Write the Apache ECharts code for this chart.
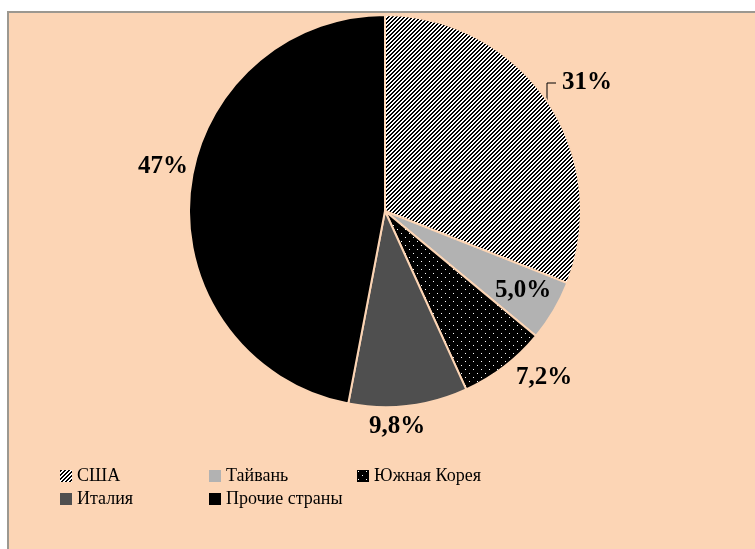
<!DOCTYPE html>
<html lang="ru">
<head>
    <meta charset="UTF-8">
    <title>Доли стран</title>
    <script src="https://cdn.jsdelivr.net/npm/echarts@6/dist/echarts.min.js"></script>
    <style>
        body, html {
            margin: 0;
            background: #ffffff;
        }
        #main {
            width: 755px;
            height: 549px;
        }
    </style>
</head>
<body>
<div id="main"></div>

<script>
    // данные диаграммы
    const countries = ['США', 'Тайвань', 'Южная Корея', 'Италия', 'Прочие страны'];
    const shares = [31, 5.0, 7.2, 9.8, 47];
    const shareLabels = ['31%', '5,0%', '7,2%', '9,8%', '47%'];

    const peach = '#fcd5b5';
    const serif = "Liberation Serif";

    // штриховка ////
    function makeHatch() {
        let c = document.createElement('canvas');
        c.width = 4; c.height = 4;
        let ctx = c.getContext('2d');
        let img = ctx.createImageData(4, 4);
        for (let y = 0; y < 4; y++) {
            for (let x = 0; x < 4; x++) {
                let v = ((x + y) % 4 < 2) ? 0 : 255;
                let i = (y * 4 + x) * 4;
                img.data[i] = v; img.data[i + 1] = v; img.data[i + 2] = v; img.data[i + 3] = 255;
            }
        }
        ctx.putImageData(img, 0, 0);
        return c;
    }

    // черный фон с белыми точками
    function makeDots() {
        let c = document.createElement('canvas');
        c.width = 8; c.height = 8;
        let ctx = c.getContext('2d');
        ctx.fillStyle = '#000';
        ctx.fillRect(0, 0, 8, 8);
        ctx.fillStyle = '#fff';
        ctx.fillRect(1, 1, 1, 1);
        ctx.fillRect(5, 5, 1, 1);
        return c;
    }

    const fills = [
        {image: makeHatch(), repeat: 'repeat'},
        '#b2b2b2',
        {image: makeDots(), repeat: 'repeat'},
        '#4f4f4f',
        '#000000'
    ];

    // где стоят подписи (центр текста)
    const labelAt = [[587, 83], [523, 291], [544, 378], [397, 427], [163, 167]];

    var chart = echarts.init(document.getElementById('main'));

    var legendBase = {
        orient: 'vertical',
        icon: 'rect',
        itemWidth: 12,
        itemHeight: 12,
        itemGap: 3,
        padding: 0,
        itemStyle: {borderWidth: 0},
        textStyle: {
            fontFamily: serif,
            fontSize: 18,
            lineHeight: 20,
            color: '#000'
        },
        selectedMode: false
    };

    var option = {
        animation: false,
        graphic: [{
            type: 'rect',
            z: -10,
            shape: {x: 8, y: 12, width: 800, height: 600},
            style: {fill: peach, stroke: '#9c9890', lineWidth: 2}
        }],
        legend: [
            Object.assign({}, legendBase, {left: 60, top: 466, data: [countries[0], countries[3]]}),
            Object.assign({}, legendBase, {left: 209, top: 466, data: [countries[1], countries[4]]}),
            Object.assign({}, legendBase, {left: 357, top: 466, data: [countries[2]]})
        ],
        series: [{
            type: 'pie',
            center: [385, 211],
            radius: 196,
            startAngle: 90,
            clockwise: true,
            itemStyle: {
                borderColor: peach,
                borderWidth: 2
            },
            label: {
                show: true,
                position: 'outside',
                fontFamily: serif,
                fontWeight: 'bold',
                fontSize: 25,
                color: '#000',
                formatter: function (p) {
                    return shareLabels[p.dataIndex];
                }
            },
            labelLine: {
                show: false
            },
            // выноска для 31%: вверх от дуги и вправо к подписи
            labelLayout: function (p) {
                let pos = labelAt[p.dataIndex];
                let res = {x: pos[0], y: pos[1], align: 'center', verticalAlign: 'middle'};
                if (p.dataIndex === 0) {
                    res.labelLinePoints = [[547, 102], [547, 83], [556, 83]];
                }
                return res;
            },
            emphasis: {disabled: true},
            data: countries.map(function (name, i) {
                let item = {name: name, value: shares[i], itemStyle: {color: fills[i]}};
                if (i === 0) {
                    item.labelLine = {show: true, lineStyle: {color: '#000', width: 1}};
                }
                return item;
            })
        }]
    };

    chart.setOption(option);
</script>
</body>
</html>
